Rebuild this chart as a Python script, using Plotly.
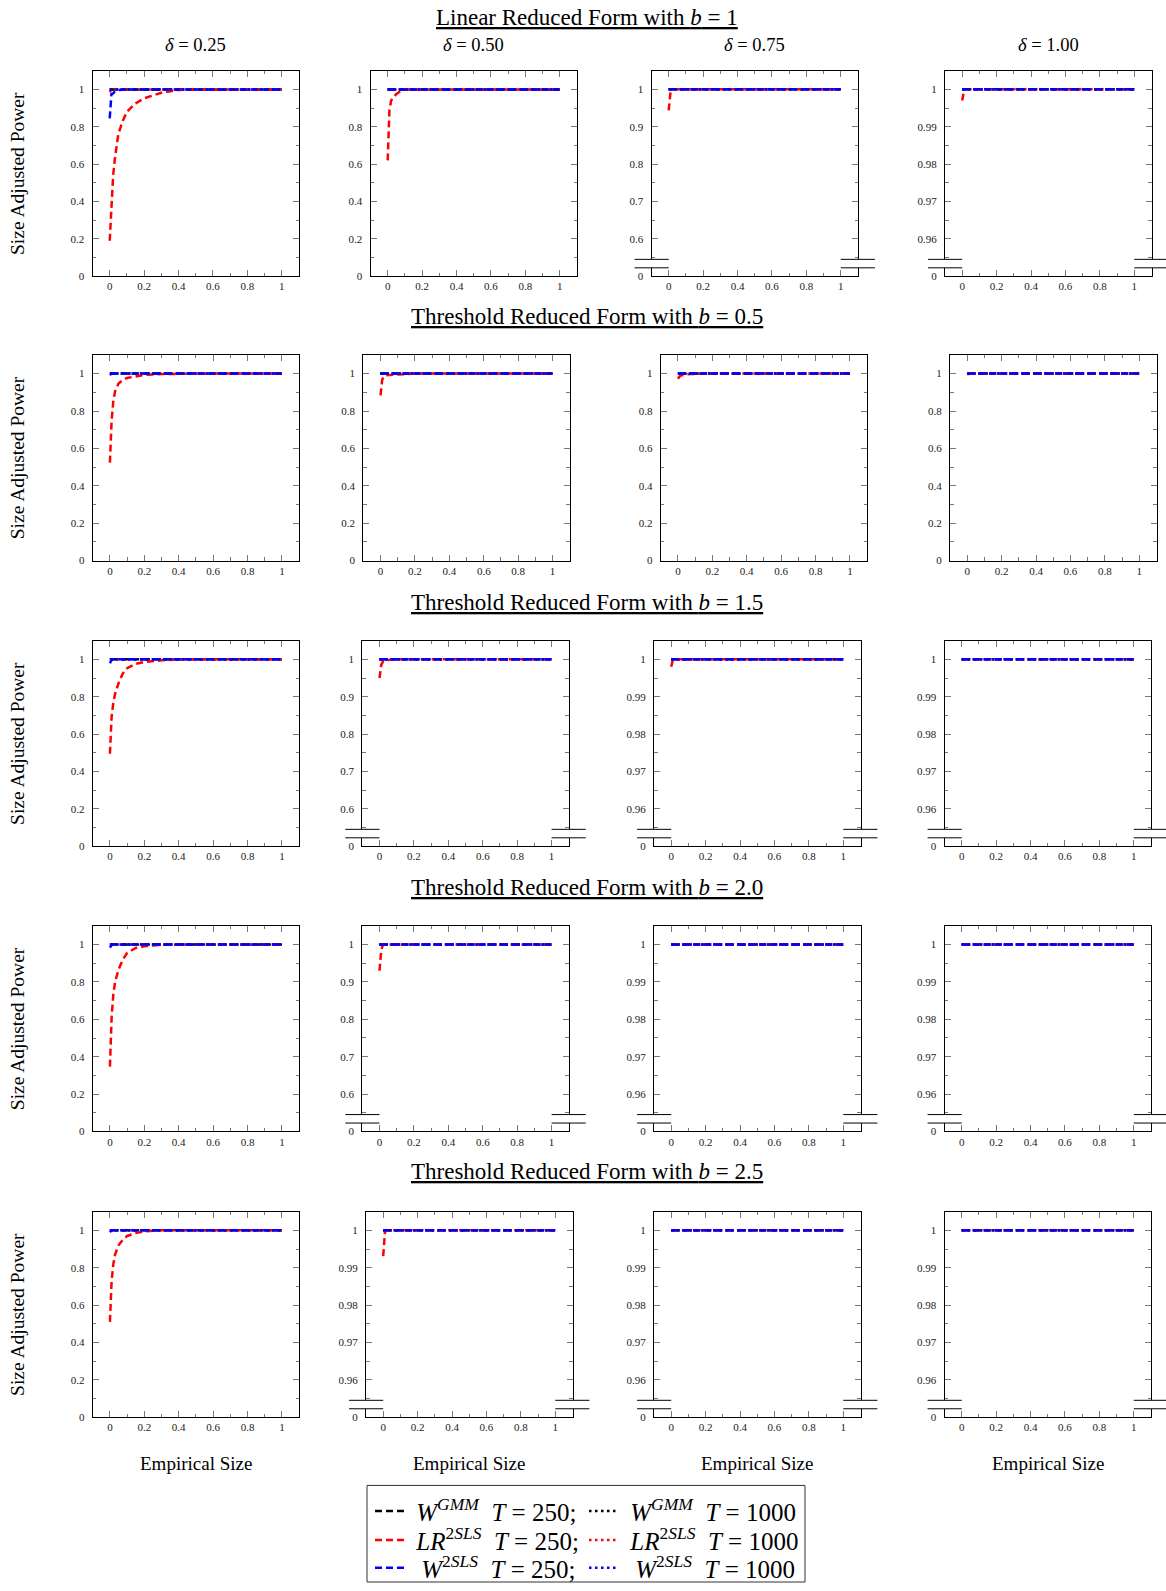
import plotly.graph_objects as go

FIG_W, FIG_H = 1166, 1591

# ---------------------------------------------------------------------------
# Data: size-adjusted power against empirical size
# ---------------------------------------------------------------------------
empirical_size = [0, 0.005, 0.01, 0.02, 0.03, 0.05, 0.075, 0.1, 0.15, 0.2,
                  0.3, 0.4, 0.5, 0.6, 0.7, 0.8, 0.9, 1.0]

full_power = [1, 1, 1, 1, 1, 1, 1, 1, 1, 1, 1, 1, 1, 1, 1, 1, 1, 1]

# Linear reduced form, b = 1
lin_b1_d025_lr250 = [0.19, 0.30, 0.41, 0.54, 0.63, 0.76, 0.83, 0.88, 0.925, 0.952,
                     0.982, 0.997, 1, 1, 1, 1, 1, 1]
lin_b1_d025_w250 = [0.845, 0.96, 0.975, 0.978, 0.99, 0.997, 1, 1, 1, 1,
                    1, 1, 1, 1, 1, 1, 1, 1]
lin_b1_d025_lr1000 = [0.985, 0.995, 1, 1, 1, 1, 1, 1, 1, 1,
                      1, 1, 1, 1, 1, 1, 1, 1]
lin_b1_d050_lr250 = [0.62, 0.79, 0.89, 0.94, 0.955, 0.975, 0.99, 1, 1, 1,
                     1, 1, 1, 1, 1, 1, 1, 1]
lin_b1_d075_lr250 = [0.944, 0.97, 0.99, 1, 1, 1, 1, 1, 1, 1,
                     1, 1, 1, 1, 1, 1, 1, 1]
lin_b1_d100_lr250 = [0.997, 0.9985, 0.9995, 1, 1, 1, 1, 1, 1, 1,
                     1, 1, 1, 1, 1, 1, 1, 1]

# Threshold reduced form, b = 0.5
thr_b05_d025_lr250 = [0.524, 0.65, 0.75, 0.855, 0.905, 0.947, 0.966, 0.977, 0.987, 0.993,
                      0.998, 1, 1, 1, 1, 1, 1, 1]
thr_b05_d025_w250 = [0.993, 0.997, 1, 1, 1, 1, 1, 1, 1, 1,
                     1, 1, 1, 1, 1, 1, 1, 1]
thr_b05_d050_lr250 = [0.884, 0.93, 0.968, 0.985, 0.991, 0.993, 0.995, 0.995, 0.997, 1,
                      1, 1, 1, 1, 1, 1, 1, 1]
thr_b05_d075_lr250 = [0.973, 0.98, 0.985, 0.991, 0.994, 0.996, 0.998, 1, 1, 1,
                      1, 1, 1, 1, 1, 1, 1, 1]
thr_b05_d100_lr250 = [0.995, 0.998, 1, 1, 1, 1, 1, 1, 1, 1,
                      1, 1, 1, 1, 1, 1, 1, 1]

# Threshold reduced form, b = 1.5
thr_b15_d025_lr250 = [0.495, 0.61, 0.694, 0.77, 0.815, 0.872, 0.925, 0.953, 0.976, 0.986,
                      0.995, 1, 1, 1, 1, 1, 1, 1]
thr_b15_d025_w250 = [0.979, 0.99, 0.997, 1, 1, 1, 1, 1, 1, 1,
                     1, 1, 1, 1, 1, 1, 1, 1]
thr_b15_d050_lr250 = [0.95, 0.978, 0.985, 0.994, 0.996, 0.998, 1, 1, 1, 1,
                      1, 1, 1, 1, 1, 1, 1, 1]
thr_b15_d075_lr250 = [0.998, 0.9995, 1, 1, 1, 1, 1, 1, 1, 1,
                      1, 1, 1, 1, 1, 1, 1, 1]

# Threshold reduced form, b = 2.0
thr_b20_d025_lr250 = [0.347, 0.52, 0.61, 0.735, 0.80, 0.866, 0.92, 0.955, 0.982, 0.991,
                      0.999, 1, 1, 1, 1, 1, 1, 1]
thr_b20_d025_w250 = [0.984, 0.993, 0.998, 1, 1, 1, 1, 1, 1, 1,
                     1, 1, 1, 1, 1, 1, 1, 1]
thr_b20_d050_lr250 = [0.93, 0.965, 0.985, 1, 1, 1, 1, 1, 1, 1,
                      1, 1, 1, 1, 1, 1, 1, 1]

# Threshold reduced form, b = 2.5
thr_b25_d025_lr250 = [0.51, 0.64, 0.73, 0.82, 0.87, 0.92, 0.95, 0.97, 0.985, 0.995,
                      1, 1, 1, 1, 1, 1, 1, 1]
thr_b25_d025_w250 = [0.99, 0.997, 1, 1, 1, 1, 1, 1, 1, 1,
                     1, 1, 1, 1, 1, 1, 1, 1]
thr_b25_d050_lr250 = [0.9931, 0.998, 0.9995, 1, 1, 1, 1, 1, 1, 1,
                      1, 1, 1, 1, 1, 1, 1, 1]

delta_labels = ["0.25", "0.50", "0.75", "1.00"]
row_titles = [
    "Linear Reduced Form with <i>b</i> = 1",
    "Threshold Reduced Form with <i>b</i> = 0.5",
    "Threshold Reduced Form with <i>b</i> = 1.5",
    "Threshold Reduced Form with <i>b</i> = 2.0",
    "Threshold Reduced Form with <i>b</i> = 2.5",
]

# panel grid: y-scale type plus the series that differ from full power
panels = [
    [dict(scale="full", lr250=lin_b1_d025_lr250, w250=lin_b1_d025_w250, lr1000=lin_b1_d025_lr1000),
     dict(scale="full", lr250=lin_b1_d050_lr250),
     dict(scale="p60", lr250=lin_b1_d075_lr250),
     dict(scale="p96", lr250=lin_b1_d100_lr250)],
    [dict(scale="full", lr250=thr_b05_d025_lr250, w250=thr_b05_d025_w250),
     dict(scale="full", lr250=thr_b05_d050_lr250),
     dict(scale="full", lr250=thr_b05_d075_lr250),
     dict(scale="full", lr250=thr_b05_d100_lr250)],
    [dict(scale="full", lr250=thr_b15_d025_lr250, w250=thr_b15_d025_w250),
     dict(scale="p60", lr250=thr_b15_d050_lr250),
     dict(scale="p96", lr250=thr_b15_d075_lr250),
     dict(scale="p96")],
    [dict(scale="full", lr250=thr_b20_d025_lr250, w250=thr_b20_d025_w250),
     dict(scale="p60", lr250=thr_b20_d050_lr250),
     dict(scale="p96"),
     dict(scale="p96")],
    [dict(scale="full", lr250=thr_b25_d025_lr250, w250=thr_b25_d025_w250),
     dict(scale="p96", lr250=thr_b25_d050_lr250),
     dict(scale="p96"),
     dict(scale="p96")],
]

DASH = "7px,4px"
DOT = "2.5px,3.5px"
SP = "&nbsp;"
TH = "\u2009"
series = [
    ("gmm250", f"{SP}<i>W</i><sup><i>GMM</i></sup>{SP}{SP}<i>T</i> = 250;", "black", DASH, "legend"),
    ("gmm1000", f"{SP}<i>W</i><sup><i>GMM</i></sup>{SP}{SP}<i>T</i> = 1000", "black", DOT, "legend"),
    ("lr250", f"{SP}<i>LR</i><sup>2<i>SLS</i></sup>{SP}{SP}<i>T</i> = 250;", "red", DASH, "legend2"),
    ("lr1000", f"{SP}<i>LR</i><sup>2<i>SLS</i></sup>{SP}{SP}<i>T</i> = 1000", "red", DOT, "legend2"),
    ("w250", f"{SP}{TH}<i>W</i><sup>2<i>SLS</i></sup>{SP}{SP}<i>T</i> = 250;", "blue", DASH, "legend3"),
    ("w1000", f"{SP}{TH}<i>W</i><sup>2<i>SLS</i></sup>{SP}{SP}<i>T</i> = 1000", "blue", DOT, "legend3"),
]

y_scales = {
    "full": dict(range=[0, 1.1], tickvals=[0, 0.2, 0.4, 0.6, 0.8, 1],
                 ticktext=["0", "0.2", "0.4", "0.6", "0.8", "1"],
                 minor=[0.1, 0.3, 0.5, 0.7, 0.9]),
    "p60": dict(range=[0.545, 1.05], tickvals=[0.6, 0.7, 0.8, 0.9, 1],
                ticktext=["0.6", "0.7", "0.8", "0.9", "1"],
                minor=[0.55, 0.65, 0.75, 0.85, 0.95]),
    "p96": dict(range=[0.9545, 1.005], tickvals=[0.96, 0.97, 0.98, 0.99, 1],
                ticktext=["0.96", "0.97", "0.98", "0.99", "1"],
                minor=[0.955, 0.965, 0.975, 0.985, 0.995]),
}
x_ticks = [0, 0.2, 0.4, 0.6, 0.8, 1]
x_ticktext = ["0", "0.2", "0.4", "0.6", "0.8", "1"]
x_minor = [0.1, 0.3, 0.5, 0.7, 0.9]

# ---------------------------------------------------------------------------
# Layout geometry (pixels)
# ---------------------------------------------------------------------------
ROW_TOPS = [71, 356.5, 643.5, 930, 1217]
COL_LEFTS = [
    [92.5, 370.5, 651.5, 945],
    [92.7, 363.3, 660.7, 950],
    [92.7, 362.3, 654, 944.5],
    [92.7, 362.3, 654, 944.5],
    [92.7, 366, 654, 944.5],
]
PANEL_W = 206.5
PANEL_H = 206.5
UPPER_H = 189.5   # broken axes: height above the break
LOWER_H = 8.5     # broken axes: height of the strip holding zero

SERIF = "Liberation Serif"
TICK_FONT = dict(family=SERIF, size=11, color="#222")
TICK_COLOR = "#777"


def fx(px):
    return px / FIG_W


def fy(py):
    return 1 - py / FIG_H


def ax_name(kind, n):
    return kind if n == 1 else f"{kind}{n}"


base_axis = dict(showline=True, linecolor="black", linewidth=1, ticks="inside",
                 ticklen=6, tickwidth=1, tickcolor=TICK_COLOR, showgrid=False,
                 zeroline=False, fixedrange=True, tickfont=TICK_FONT)


def minor_ticks(vals):
    return dict(ticks="inside", ticklen=3.5, tickwidth=1, tickcolor=TICK_COLOR,
                tickmode="array", tickvals=vals, showgrid=False)


fig = go.Figure()
layout_axes = {}
shapes = []
annotations = []
n = 0

for r in range(len(panels)):
    top = ROW_TOPS[r]
    bottom = top + PANEL_H
    for c, panel in enumerate(panels[r]):
        left = COL_LEFTS[r][c]
        xdom = [fx(left), fx(left + PANEL_W)]
        ys = y_scales[panel["scale"]]
        broken = panel["scale"] != "full"

        n += 1
        main = n
        xa = dict(base_axis, domain=xdom, range=[-0.1, 1.1], anchor=ax_name("y", main),
                  tickmode="array", tickvals=x_ticks, minor=minor_ticks(x_minor))
        ya = dict(base_axis, range=ys["range"], anchor=ax_name("x", main),
                  tickmode="array", tickvals=ys["tickvals"], ticktext=ys["ticktext"],
                  minor=minor_ticks(ys["minor"]), mirror="ticks", ticklabelstandoff=5)
        if broken:
            ya["domain"] = [fy(top + UPPER_H), fy(top)]
            xa.update(side="top", showticklabels=False)
        else:
            ya["domain"] = [fy(bottom), fy(top)]
            xa.update(mirror="ticks", ticktext=x_ticktext, ticklabelstandoff=0)
        layout_axes[ax_name("xaxis", main)] = xa
        layout_axes[ax_name("yaxis", main)] = ya

        for key, name, color, dash, legend_id in series:
            fig.add_trace(go.Scatter(
                x=empirical_size, y=panel.get(key, full_power), mode="lines",
                name=name, line=dict(color=color, width=2.5, dash=dash),
                xaxis=ax_name("x", main), yaxis=ax_name("y", main),
                legend=legend_id, showlegend=(r == 0 and c == 0),
                hoverinfo="skip"))

        if broken:
            # narrow strip below the break that carries the zero tick
            n += 1
            low = n
            layout_axes[ax_name("xaxis", low)] = dict(
                base_axis, domain=xdom, range=[-0.1, 1.1], anchor=ax_name("y", low),
                tickmode="array", tickvals=x_ticks, ticktext=x_ticktext,
                minor=minor_ticks(x_minor), ticklabelstandoff=0)
            layout_axes[ax_name("yaxis", low)] = dict(
                base_axis, domain=[fy(bottom), fy(bottom - LOWER_H)], range=[0, 1],
                anchor=ax_name("x", low), tickmode="array", tickvals=[0], ticktext=["0"],
                mirror=True, ticklabelstandoff=5)
            fig.add_trace(go.Scatter(x=[], y=[], mode="lines", xaxis=ax_name("x", low),
                                     yaxis=ax_name("y", low), showlegend=False,
                                     hoverinfo="skip"))
            # break marks on either side of the gap
            for sub, yv in ((main, 0), (low, 1)):
                for x0, x1 in ((-0.082, 1 / 12), (11 / 12, 1.082)):
                    shapes.append(dict(type="line", xref=f"{ax_name('x', sub)} domain",
                                       yref=f"{ax_name('y', sub)} domain",
                                       x0=x0, x1=x1, y0=yv, y1=yv,
                                       line=dict(color="black", width=1)))

        # column headings over the first row
        if r == 0:
            annotations.append(dict(text=f"<i>δ</i> = {delta_labels[c]}", xref="paper",
                                    yref="paper", x=fx(left + PANEL_W / 2), y=fy(44.7),
                                    showarrow=False, xanchor="center", yanchor="middle",
                                    font=dict(family=SERIF, size=18.5, color="black")))
        # x-axis titles under the last row
        if r == len(panels) - 1:
            annotations.append(dict(text="Empirical Size", xref="paper", yref="paper",
                                    x=fx(left + PANEL_W / 2), y=fy(1469.5),
                                    showarrow=False, xanchor="center", yanchor="middle",
                                    font=dict(family=SERIF, size=19, color="black")))

    # row heading and y-axis title
    annotations.append(dict(text=f"<u>{row_titles[r]}</u>", xref="paper", yref="paper",
                            x=fx(586.5), y=fy([17.3, 317.6, 604.8, 891, 1177][r]),
                            showarrow=False, xanchor="center", yanchor="middle",
                            font=dict(family=SERIF, size=23, color="black")))
    annotations.append(dict(text="Size Adjusted Power", xref="paper", yref="paper",
                            x=fx(17.5), y=fy(top + PANEL_H / 2), textangle=-90,
                            showarrow=False, xanchor="center", yanchor="middle",
                            font=dict(family=SERIF, size=19.5, color="black")))

# legend frame
shapes.append(dict(type="rect", xref="paper", yref="paper", x0=fx(367), x1=fx(805),
                   y0=fy(1589), y1=fy(1492), line=dict(color="#333", width=1),
                   fillcolor="rgba(0,0,0,0)"))

legend_common = dict(orientation="h", xanchor="left", yanchor="middle", x=fx(370),
                     font=dict(family=SERIF, size=25, color="black"),
                     bgcolor="rgba(0,0,0,0)", borderwidth=0, entrywidth=169,
                     entrywidthmode="pixels", itemclick=False, itemdoubleclick=False)

fig.update_layout(
    width=FIG_W, height=FIG_H,
    margin=dict(l=0, r=0, t=0, b=0),
    paper_bgcolor="white", plot_bgcolor="white",
    showlegend=True,
    legend=dict(legend_common, y=fy(1518)),
    legend2=dict(legend_common, y=fy(1547)),
    legend3=dict(legend_common, y=fy(1575)),
    shapes=shapes,
    annotations=annotations,
    **layout_axes,
)

fig.write_html("out.html")
